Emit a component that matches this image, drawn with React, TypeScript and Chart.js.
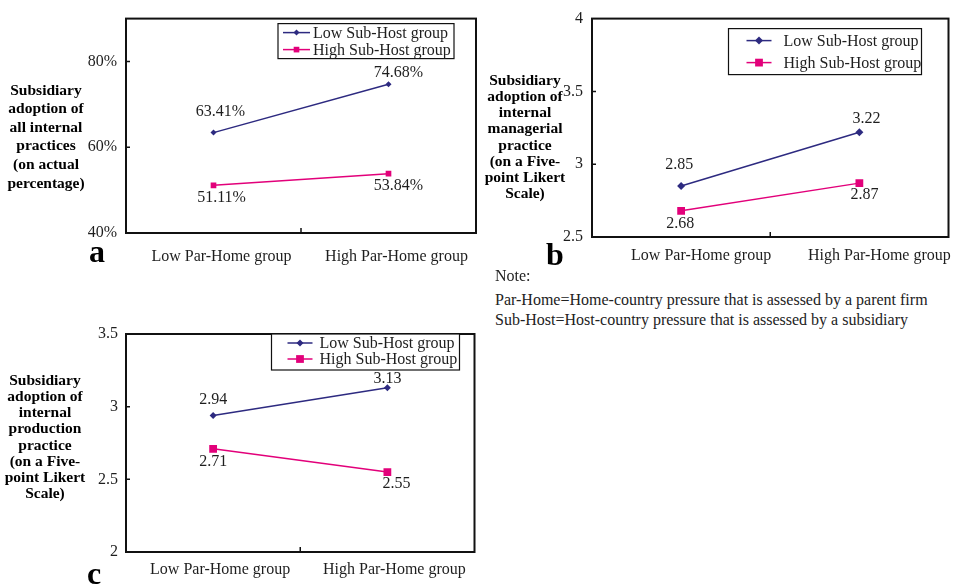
import React, { useEffect, useRef } from 'react';
import { Chart, registerables } from 'chart.js';

Chart.register(...registerables);

// ---------- data ----------
const categories = ['Low Par-Home group', 'High Par-Home group'];
const seriesNames = ['Low Sub-Host group', 'High Sub-Host group'];

const lowA = [63.41, 74.68];
const highA = [51.11, 53.84];
const lowB = [2.85, 3.22];
const highB = [2.68, 2.87];
const lowC = [2.94, 3.13];
const highC = [2.71, 2.55];

const yRangeA = [40, 90, 20];
const yRangeB = [2.5, 4, 0.5];
const yRangeC = [2, 3.5, 0.5];

const titleA = ['Subsidiary', 'adoption of', 'all internal', 'practices', '(on actual', 'percentage)'];
const titleB = ['Subsidiary', 'adoption of', 'internal', 'managerial', 'practice', '(on a Five-', 'point Likert', 'Scale)'];
const titleC = ['Subsidiary', 'adoption of', 'internal', 'production', 'practice', '(on a Five-', 'point Likert', 'Scale)'];

const noteLines = [
  'Note:',
  'Par-Home=Home-country pressure that is assessed by a parent firm',
  'Sub-Host=Host-country pressure that is assessed by a subsidiary',
];

// ---------- styles ----------
const SERIF = "'Liberation Serif', 'Times New Roman', Times, serif";
const LOW = '#2d2a80';
const HIGH = '#e2007a';
const AXIS = '#111111';
const TEXT = '#1e1e1e';

type Panel = {
  low: number[];
  high: number[];
  range: number[];
  fmt: (v: number) => string;
  canvas: { left: number; top: number; w: number; h: number };
  area: { left: number; top: number; right: number; bottom: number };
  yPad: number;
  xPad: number;
  xLabelOffset: number;
  diamondR: number;
  squareR: number;
  lowOff: number[][];
  highOff: number[][];
  legend: { fromRight: number; top: number; w: number; h: number; rows: number[]; s0: number; s1: number; tx: number };
};

const panels: Panel[] = [
  {
    low: lowA, high: highA, range: yRangeA,
    fmt: (v) => v.toFixed(2) + '%',
    canvas: { left: 0, top: 0, w: 480, h: 280 },
    area: { left: 126, top: 13, right: 478, bottom: 233 },
    yPad: 9, xPad: 14, xLabelOffset: 8,
    diamondR: 3, squareR: 4,
    lowOff: [[7, -21], [10, -11]],
    highOff: [[8, 12], [10, 12]],
    legend: { fromRight: 198, top: 5, w: 176, h: 35, rows: [9, 26], s0: 5, s1: 32, tx: 35 },
  },
  {
    low: lowB, high: highB, range: yRangeB,
    fmt: (v) => v.toFixed(2),
    canvas: { left: 480, top: 0, w: 474, h: 280 },
    area: { left: 112, top: 13, right: 470, bottom: 237 },
    yPad: 9, xPad: 9, xLabelOffset: 20,
    diamondR: 4, squareR: 5.5,
    lowOff: [[-2, -21], [7, -13]],
    highOff: [[-1, 13], [5, 12]],
    legend: { fromRight: 220, top: 10, w: 193, h: 46, rows: [12, 34], s0: 18, s1: 43, tx: 55 },
  },
  {
    low: lowC, high: highC, range: yRangeC,
    fmt: (v) => v.toFixed(2),
    canvas: { left: 0, top: 310, w: 480, h: 275 },
    area: { left: 126, top: 24, right: 475, bottom: 242 },
    yPad: 8, xPad: 8, xLabelOffset: 7,
    diamondR: 3.5, squareR: 5.5,
    lowOff: [[0, -16], [0, -9]],
    highOff: [[0, 13], [9, 12]],
    legend: { fromRight: 203, top: 0, w: 188, h: 36, rows: [9, 25], s0: 16, s1: 41, tx: 48 },
  },
];

function drawMarker(ctx: CanvasRenderingContext2D, kind: string, x: number, y: number, r: number, color: string) {
  ctx.save();
  ctx.fillStyle = color;
  ctx.beginPath();
  if (kind === 'rectRot') {
    ctx.moveTo(x, y - r);
    ctx.lineTo(x + r, y);
    ctx.lineTo(x, y + r);
    ctx.lineTo(x - r, y);
    ctx.closePath();
  } else {
    const s = r * Math.SQRT1_2;
    ctx.rect(x - s, y - s, 2 * s, 2 * s);
  }
  ctx.fill();
  ctx.restore();
}

function makeChart(canvas: HTMLCanvasElement, p: Panel) {
  const font = { family: SERIF, size: 16 };
  const framePlugin = {
    id: 'frameP',
    afterDatasetsDraw(chart: any) {
      const { ctx, chartArea: a, scales } = chart;
      ctx.save();
      ctx.strokeStyle = AXIS;
      ctx.lineWidth = 2;
      ctx.strokeRect(a.left, a.top, a.right - a.left, a.bottom - a.top);
      ctx.lineWidth = 1.5;
      ctx.beginPath();
      for (const t of scales.y.ticks) {
        const py = scales.y.getPixelForValue(t.value);
        if (py > a.top + 2 && py < a.bottom - 2) {
          ctx.moveTo(a.left, py);
          ctx.lineTo(a.left + 4, py);
        }
      }
      const mx = (scales.x.getPixelForValue(0) + scales.x.getPixelForValue(1)) / 2;
      ctx.moveTo(mx, a.bottom);
      ctx.lineTo(mx, a.bottom - 5);
      ctx.stroke();
      ctx.restore();
    },
  };
  const labelPlugin = {
    id: 'labelP',
    afterDatasetsDraw(chart: any) {
      const { ctx } = chart;
      ctx.save();
      ctx.font = `16px ${SERIF}`;
      ctx.fillStyle = TEXT;
      ctx.textAlign = 'center';
      ctx.textBaseline = 'middle';
      [p.lowOff, p.highOff].forEach((offs, di) => {
        const meta = chart.getDatasetMeta(di);
        const vals = chart.data.datasets[di].data as number[];
        meta.data.forEach((pt: any, i: number) => {
          ctx.fillText(p.fmt(vals[i]), pt.x + offs[i][0], pt.y + offs[i][1]);
        });
      });
      ctx.restore();
    },
  };
  const legendPlugin = {
    id: 'legendP',
    afterDraw(chart: any) {
      const { ctx, chartArea: a } = chart;
      const L = p.legend;
      const bx = a.right - L.fromRight;
      const by = a.top + L.top;
      ctx.save();
      ctx.fillStyle = '#ffffff';
      ctx.fillRect(bx, by, L.w, L.h);
      ctx.strokeStyle = AXIS;
      ctx.lineWidth = 1.2;
      ctx.strokeRect(bx, by, L.w, L.h);
      chart.data.datasets.forEach((ds: any, i: number) => {
        const y = by + L.rows[i];
        ctx.strokeStyle = ds.borderColor;
        ctx.lineWidth = 1.5;
        ctx.beginPath();
        ctx.moveTo(bx + L.s0, y);
        ctx.lineTo(bx + L.s1, y);
        ctx.stroke();
        drawMarker(ctx, ds.pointStyle, bx + (L.s0 + L.s1) / 2, y, ds.pointRadius, ds.borderColor);
        ctx.fillStyle = TEXT;
        ctx.font = `16px ${SERIF}`;
        ctx.textAlign = 'left';
        ctx.textBaseline = 'middle';
        ctx.fillText(ds.label, bx + L.tx, y + 1);
      });
      ctx.restore();
    },
  };

  return new Chart(canvas, {
    type: 'line',
    data: {
      labels: categories,
      datasets: [
        {
          label: seriesNames[0], data: p.low, borderColor: LOW, backgroundColor: LOW,
          borderWidth: 1.5, pointStyle: 'rectRot', pointRadius: p.diamondR, pointBorderWidth: 0,
          tension: 0, fill: false,
        },
        {
          label: seriesNames[1], data: p.high, borderColor: HIGH, backgroundColor: HIGH,
          borderWidth: 1.5, pointStyle: 'rect', pointRadius: p.squareR, pointBorderWidth: 0,
          tension: 0, fill: false,
        },
      ],
    },
    options: {
      responsive: false,
      maintainAspectRatio: false,
      animation: false,
      devicePixelRatio: 1,
      layout: { padding: { left: 0, top: p.area.top, right: p.canvas.w - p.area.right, bottom: 0 } },
      plugins: { legend: { display: false }, tooltip: { enabled: false } },
      scales: {
        x: {
          type: 'category',
          offset: true,
          grid: { display: false, drawTicks: false },
          border: { display: false },
          ticks: {
            font, color: TEXT, padding: p.xPad, labelOffset: p.xLabelOffset,
            maxRotation: 0, minRotation: 0, autoSkip: false,
          },
          afterFit: (s: any) => { s.height = p.canvas.h - p.area.bottom; },
        },
        y: {
          type: 'linear',
          min: p.range[0],
          max: p.range[1],
          grid: { display: false, drawTicks: false },
          border: { display: false },
          ticks: {
            stepSize: p.range[2],
            includeBounds: false,
            font, color: TEXT, padding: p.yPad,
            callback: (v: any) => (p === panels[0] ? `${v}%` : `${v}`),
          },
          afterFit: (s: any) => { s.width = p.area.left; },
        },
      },
    } as any,
    plugins: [framePlugin, labelPlugin, legendPlugin],
  });
}

function ChartCanvas({ p }: { p: Panel }) {
  const ref = useRef<HTMLCanvasElement | null>(null);
  useEffect(() => {
    if (!ref.current) return;
    const c = makeChart(ref.current, p);
    return () => c.destroy();
  }, [p]);
  return (
    <canvas
      ref={ref}
      width={p.canvas.w}
      height={p.canvas.h}
      style={{ position: 'absolute', left: p.canvas.left, top: p.canvas.top, width: p.canvas.w, height: p.canvas.h }}
    />
  );
}

function Title({ lines, cx, firstY, lh }: { lines: string[]; cx: number; firstY: number; lh: number }) {
  return (
    <div style={{ position: 'absolute', left: cx - 60, top: firstY - lh / 2, width: 120, textAlign: 'center', fontFamily: SERIF, fontWeight: 'bold', fontSize: 15.5, color: '#000' }}>
      {lines.map((l, i) => (
        <div key={i} style={{ height: lh, lineHeight: `${lh}px`, whiteSpace: 'nowrap' }}>{l}</div>
      ))}
    </div>
  );
}

function Letter({ ch, left, top }: { ch: string; left: number; top: number }) {
  return (
    <div style={{ position: 'absolute', left, top, fontFamily: SERIF, fontWeight: 'bold', fontSize: 32, lineHeight: '32px', color: '#000' }}>{ch}</div>
  );
}

export default function App() {
  return (
    <div style={{ position: 'absolute', left: 0, top: 0, width: 954, height: 585, background: '#fff', overflow: 'hidden' }}>
      {panels.map((p, i) => <ChartCanvas key={i} p={p} />)}
      <Title lines={titleA} cx={46} firstY={90} lh={18.6} />
      <Title lines={titleB} cx={525} firstY={80} lh={16.2} />
      <Title lines={titleC} cx={45} firstY={380} lh={16.2} />
      <Letter ch="a" left={89} top={235} />
      <Letter ch="b" left={546} top={238} />
      <Letter ch="c" left={87} top={557} />
      {noteLines.map((l, i) => (
        <div key={i} style={{ position: 'absolute', left: 495, top: [266, 290, 310][i], fontFamily: SERIF, fontSize: 16, lineHeight: '20px', color: '#222', whiteSpace: 'nowrap' }}>{l}</div>
      ))}
    </div>
  );
}
